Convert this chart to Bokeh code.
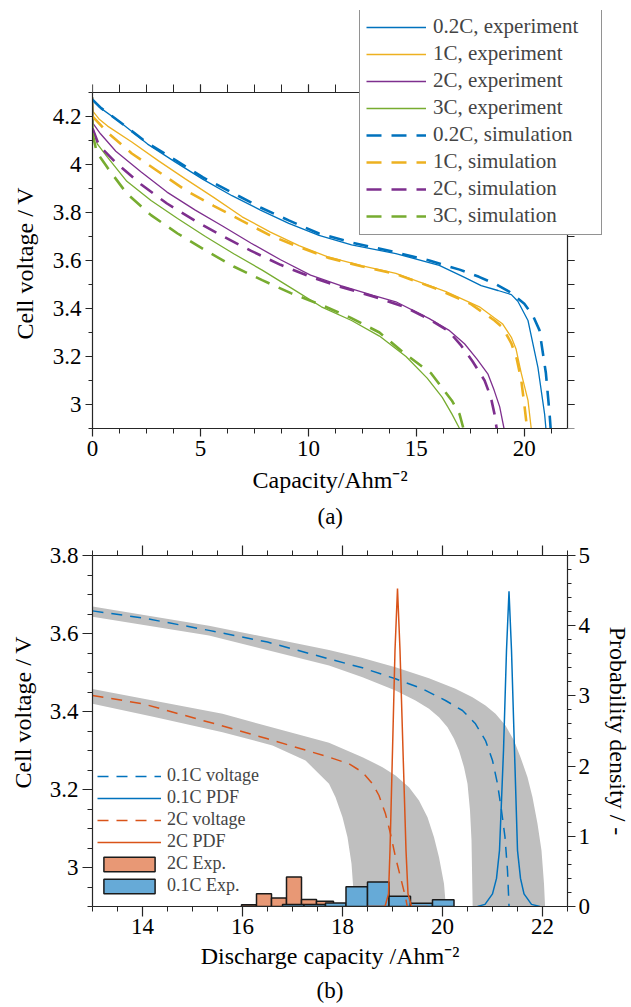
from bokeh.plotting import figure
from bokeh.models import (Range1d, LinearAxis, SingleIntervalTicker, Legend,
                          LegendItem, Title)
from bokeh.layouts import column
from bokeh.embed import file_html
from bokeh.resources import INLINE

FONT = "Liberation Serif"
AXC = "#262626"

# ---------------- panel (a): discharge curves ----------------
cap_02C_exp = [0, 0.03, 0.3, 1.3, 2.55, 3.84, 5.12, 6.46, 7.78, 9.09, 10.49, 12.0, 14.05,
               16.06, 17.23, 18.0, 18.78, 19.4, 19.7, 20.17, 20.63, 20.94, 21.0]
v_02C_exp = [4.28, 4.265, 4.24, 4.175, 4.085, 4.01, 3.938, 3.87, 3.81, 3.755, 3.705, 3.665,
             3.629, 3.58, 3.53, 3.495, 3.475, 3.458, 3.43, 3.35, 3.155, 2.96, 2.9]
cap_1C_exp = [0, 0.03, 0.3, 0.7, 1.82, 3.06, 4.3, 5.61, 6.93, 8.24, 9.56, 10.9, 12.5, 14.05,
              16.37, 17.92, 18.62, 19.0, 19.4, 19.62, 19.86, 20.17, 20.32]
v_1C_exp = [4.28, 4.22, 4.19, 4.16, 4.094, 4.015, 3.94, 3.863, 3.782, 3.718, 3.662, 3.615,
            3.578, 3.546, 3.47, 3.407, 3.36, 3.335, 3.28, 3.23, 3.13, 3.017, 2.9]
cap_2C_exp = [0, 0.03, 0.37, 1.08, 2.24, 3.45, 4.76, 6.0, 7.35, 8.71, 10.1, 11.5, 13.0, 14.05,
              15.6, 16.5, 17.23, 17.8, 18.31, 18.6, 18.86, 19.06]
v_2C_exp = [4.28, 4.17, 4.128, 4.055, 3.97, 3.885, 3.81, 3.745, 3.672, 3.603, 3.539, 3.495,
            3.455, 3.428, 3.358, 3.31, 3.253, 3.19, 3.128, 3.06, 2.99, 2.9]
cap_3C_exp = [0, 0.03, 0.22, 0.7, 1.59, 2.71, 3.94, 5.23, 6.54, 7.86, 9.25, 10.6, 12.0, 13.29,
              14.52, 15.5, 16.2, 16.65, 17.0]
v_3C_exp = [4.28, 4.15, 4.086, 4.03, 3.93, 3.85, 3.775, 3.70, 3.628, 3.56, 3.483, 3.407, 3.35,
            3.285, 3.2, 3.11, 3.03, 2.96, 2.9]

cap_02C_sim = [0, 0.4, 1.3, 2.55, 3.84, 5.12, 6.46, 7.78, 9.09, 10.49, 12.0, 14.0, 15.6, 17.0,
               17.9, 18.7, 19.3, 20.0, 20.4, 20.7, 21.0, 21.17, 21.22]
v_02C_sim = [4.27, 4.235, 4.175, 4.089, 4.018, 3.946, 3.883, 3.821, 3.767, 3.7125, 3.675, 3.635,
             3.6, 3.562, 3.532, 3.5, 3.47, 3.42, 3.37, 3.31, 3.13, 2.96, 2.9]
cap_1C_sim = [0, 0.7, 1.82, 3.06, 4.3, 5.61, 6.93, 8.24, 9.56, 10.9, 12.5, 14.0, 16.0, 17.5,
              18.62, 19.0, 19.4, 19.65, 19.86, 20.0, 20.09, 20.12]
v_1C_sim = [4.2, 4.133, 4.046, 3.97, 3.893, 3.828, 3.765, 3.704, 3.656, 3.612, 3.575, 3.545,
            3.48, 3.42, 3.35, 3.32, 3.255, 3.19, 3.10, 3.0, 2.93, 2.9]
cap_2C_sim = [0, 0.3, 1.08, 2.24, 3.45, 4.76, 6.0, 7.35, 8.71, 10.1, 11.5, 13.0, 14.5, 15.6,
              16.5, 17.08, 17.6, 18.16, 18.45, 18.62, 18.72]
v_2C_sim = [4.15, 4.08, 4.008, 3.918, 3.8375, 3.765, 3.703, 3.64, 3.582, 3.532, 3.49, 3.45,
            3.405, 3.355, 3.305, 3.245, 3.18, 3.10, 3.03, 2.96, 2.9]
cap_3C_sim = [0, 0.2, 0.7, 1.59, 2.71, 3.94, 5.23, 6.54, 7.86, 9.19, 10.66, 11.97, 13.29, 14.52,
              15.68, 16.64, 17.0, 17.18]
v_3C_sim = [4.13, 4.05, 3.986, 3.879, 3.789, 3.7125, 3.642, 3.575, 3.518, 3.464, 3.4125, 3.361,
            3.30, 3.208, 3.13, 3.017, 2.96, 2.9]

rates_a = ["0.2C", "1C", "2C", "3C"]
colors_a = ["#0072BD", "#EDB120", "#7E2F8E", "#77AC30"]

# ---------------- panel (b): uncertainty ----------------
v01_cap = [13.0, 14.0, 15.33, 16.5, 17.73, 18.40, 19.06, 19.60, 20.06, 20.40, 20.66, 20.86,
           21.00, 21.10, 21.18, 21.25, 21.30, 21.33, 21.34]
v01_v = [3.658, 3.64, 3.608, 3.578, 3.535, 3.512, 3.4838, 3.4581, 3.4282, 3.4026, 3.3684,
         3.3256, 3.2744, 3.2145, 3.1462, 3.0778, 2.9923, 2.9026, 2.88]
v2_cap = [13.0, 14.0, 15.46, 16.5, 17.73, 18.13, 18.40, 18.60, 18.73, 18.86, 18.96, 19.06,
          19.16, 19.26, 19.31]
v2_v = [3.441, 3.42, 3.368, 3.33, 3.283, 3.2658, 3.2444, 3.2145, 3.1846, 3.1376, 3.0863,
        3.0265, 2.9752, 2.9239, 2.89]

band01_up_cap = [12.9, 13.0, 15.33, 17.73, 18.40, 19.06, 19.73, 20.26, 20.60, 20.86, 21.06,
                 21.26, 21.43, 21.56, 21.70, 21.80, 21.90, 21.98, 22.03, 22.07]
band01_up_v = [3.671, 3.669, 3.62, 3.558, 3.5375, 3.5137, 3.4855, 3.4581, 3.4368, 3.4154, 3.394,
               3.3641, 3.3256, 3.2829, 3.2316, 3.1803, 3.112, 3.0436, 2.9581, 2.85]
band01_lo_cap = [12.9, 13.0, 15.33, 17.73, 18.40, 19.06, 19.46, 19.73, 19.93, 20.10, 20.23,
                 20.33, 20.43, 20.50, 20.55, 20.58, 20.61]
band01_lo_v = [3.645, 3.643, 3.595, 3.5179, 3.488, 3.4538, 3.4282, 3.4068, 3.3854, 3.3598,
               3.3299, 3.30, 3.2573, 3.2145, 3.1462, 3.0692, 2.85]
band2_up_cap = [12.9, 13.0, 15.6, 17.73, 18.40, 18.80, 19.06, 19.33, 19.53, 19.70, 19.83,
                19.93, 20.03, 20.10]
band2_up_v = [3.46, 3.458, 3.394, 3.32, 3.2829, 3.2573, 3.2359, 3.206, 3.1718, 3.1291, 3.0778,
              3.0265, 2.9581, 2.85]
band2_lo_cap = [12.9, 13.0, 14.26, 15.6, 16.6, 17.26, 17.73, 17.86, 18.00, 18.10, 18.18, 18.27]
band2_lo_v = [3.422, 3.42, 3.3855, 3.347, 3.3128, 3.2744, 3.2145, 3.1803, 3.1291, 3.0778,
              3.0094, 2.85]

pdf01_cap = [20.7, 20.85, 21.0, 21.08, 21.14, 21.22, 21.28, 21.33, 21.38, 21.44, 21.5, 21.56,
             21.63, 21.78, 21.95]
pdf01_d = [0.0, 0.03, 0.18, 0.4, 0.8, 2.22, 3.65, 4.49, 3.65, 2.22, 0.8, 0.4, 0.18, 0.03, 0.0]
pdf2_cap = [18.5, 18.85, 18.92, 18.95, 19.0, 19.05, 19.1, 19.15, 19.21, 19.27, 19.31, 19.38, 19.7]
pdf2_d = [0.0, 0.0, 0.18, 0.8, 2.22, 3.65, 4.53, 3.65, 2.22, 0.8, 0.18, 0.0, 0.0]

hist2_edges = [15.98, 16.28, 16.58, 16.88, 17.18, 17.48, 17.82]
hist2_dens = [0.024, 0.18, 0.12, 0.42, 0.10, 0.075]
hist01_edges = [16.80, 17.23, 17.66, 18.07, 18.50, 18.93, 19.36, 19.80, 20.23]
hist01_dens = [0.03, 0.03, 0.05, 0.28, 0.35, 0.145, 0.045, 0.095]

TICK_PX = "23px"
LABEL_PX = "24px"


def style_axis(ax, major_out, minor_out, labels=True):
    ax.axis_line_color = AXC
    ax.axis_line_width = 1.2
    ax.major_tick_line_color = AXC
    ax.minor_tick_line_color = AXC
    ax.major_tick_line_width = 1.2
    ax.minor_tick_line_width = 1.0
    ax.major_tick_in = 0
    ax.minor_tick_in = 0
    ax.major_tick_out = major_out
    ax.minor_tick_out = minor_out
    ax.major_label_text_font = FONT
    if labels:
        ax.major_label_text_font_size = TICK_PX
        ax.major_label_text_color = "black"
    else:
        ax.major_label_text_font_size = "1px"
        ax.major_label_text_color = None
        ax.major_label_standoff = 0
    ax.axis_label_text_font = FONT
    ax.axis_label_text_font_size = LABEL_PX
    ax.axis_label_text_font_style = "normal"
    ax.axis_label_text_color = "black"


def side_title(text, align, offset, standoff, valign, size=LABEL_PX):
    return Title(text=text, align=align, vertical_align=valign, offset=offset,
                 standoff=standoff, text_font=FONT, text_font_size=size,
                 text_font_style="normal", text_color="black")


# ---------------- figure (a) ----------------
# frame is enlarged above/right so that the legend can overhang the axes box
SX1 = 475 / 22.0     # px per Ah/m2
SY1 = 336 / 1.4      # px per V
p1 = figure(frame_width=527, frame_height=418, min_border_left=92, min_border_right=12,
            min_border_top=10, min_border_bottom=114,
            x_range=Range1d(0, 527 / SX1), y_range=Range1d(2.9, 2.9 + 418 / SY1),
            output_backend="svg", toolbar_location=None)
p1.grid.visible = False
p1.outline_line_color = None
p1.background_fill_color = "white"
p1.border_fill_color = "white"

p1.xaxis.ticker = SingleIntervalTicker(interval=5, num_minor_ticks=4)
p1.yaxis.ticker = SingleIntervalTicker(interval=0.2, num_minor_ticks=2)
p1.xaxis.bounds = (0, 22)
p1.yaxis.bounds = (2.9, 4.3)
style_axis(p1.xaxis[0], 8, 5)
style_axis(p1.yaxis[0], 7, 4)
p1.xaxis.major_label_standoff = 4
p1.yaxis.major_label_standoff = 4

ax_top1 = LinearAxis(ticker=SingleIntervalTicker(interval=5, num_minor_ticks=4),
                     fixed_location=4.3, bounds=(0, 22))
style_axis(ax_top1, 8, 8, labels=False)
p1.add_layout(ax_top1, "above")
ax_right1 = LinearAxis(ticker=SingleIntervalTicker(interval=0.2, num_minor_ticks=2),
                       fixed_location=22, bounds=(2.9, 4.3))
style_axis(ax_right1, 7, 7, labels=False)
p1.add_layout(ax_right1, "right")

p1.add_layout(side_title("Cell voltage / V", "left", 89, 20, "top"), "left")
p1.add_layout(side_title("Capacity/Ahm\u207b\u00b2", "left", 160, 14, "middle"), "below")
p1.add_layout(side_title("(a)", "left", 225, 4, "middle", TICK_PX), "below")

exp_data = [(cap_02C_exp, v_02C_exp), (cap_1C_exp, v_1C_exp), (cap_2C_exp, v_2C_exp),
            (cap_3C_exp, v_3C_exp)]
sim_data = [(cap_02C_sim, v_02C_sim), (cap_1C_sim, v_1C_sim), (cap_2C_sim, v_2C_sim),
            (cap_3C_sim, v_3C_sim)]
items_a = []
for (cx, vy), col, rate in zip(exp_data, colors_a, rates_a):
    r = p1.line(cx, vy, line_color=col, line_width=1.3)
    items_a.append(LegendItem(label=f"{rate}, experiment", renderers=[r]))
for (cx, vy), col, rate in zip(sim_data, colors_a, rates_a):
    r = p1.line(cx, vy, line_color=col, line_width=2.6, line_dash="15 10")
    items_a.append(LegendItem(label=f"{rate}, simulation", renderers=[r]))

leg1 = Legend(items=items_a, location=(267, 193), border_line_color=AXC, border_line_width=1,
              background_fill_color="white", background_fill_alpha=1.0,
              label_text_font=FONT, label_text_font_size="21px", glyph_width=60,
              glyph_height=24, label_height=24, label_width=162, spacing=2, padding=6,
              margin=0, label_standoff=7)
p1.add_layout(leg1)

# ---------------- figure (b) ----------------
p2 = figure(frame_width=475, frame_height=351, min_border_left=92, min_border_right=64,
            min_border_top=13, min_border_bottom=101, x_range=Range1d(13, 22.5),
            y_range=Range1d(2.9, 3.8000001), output_backend="svg", toolbar_location=None,
            x_axis_label="Discharge capacity /Ahm\u207b\u00b2")
p2.grid.visible = False
p2.outline_line_color = None
p2.background_fill_color = "white"
p2.border_fill_color = "white"
p2.extra_y_ranges = {"pdf": Range1d(0, 5)}

p2.xaxis.ticker = SingleIntervalTicker(interval=2, num_minor_ticks=4)
p2.yaxis.ticker = SingleIntervalTicker(interval=0.2, num_minor_ticks=4)
style_axis(p2.xaxis[0], 10, 5)
style_axis(p2.yaxis[0], 10, 5)
p2.xaxis.major_label_standoff = 2
p2.xaxis.axis_label_standoff = 6
p2.yaxis.major_label_standoff = 4

ax_top2 = LinearAxis(ticker=SingleIntervalTicker(interval=2, num_minor_ticks=4))
style_axis(ax_top2, 10, 5, labels=False)
p2.add_layout(ax_top2, "above")
ax_right2 = LinearAxis(y_range_name="pdf", axis_label="Probability density / -",
                       ticker=SingleIntervalTicker(interval=1, num_minor_ticks=5))
style_axis(ax_right2, 8, 4)
ax_right2.major_label_standoff = 3
ax_right2.axis_label_standoff = 12
ax_right2.axis_label_orientation = "vertical"
p2.add_layout(ax_right2, "right")
p2.add_layout(side_title("Cell voltage / V", "left", 118, 17, "top"), "left")
p2.add_layout(side_title("(b)", "center", 0, 10, "middle", TICK_PX), "below")

band_col = "#BFBFBF"
p2.patch(band01_up_cap + band01_lo_cap[::-1], band01_up_v + band01_lo_v[::-1],
         fill_color=band_col, line_color=None)
p2.patch(band2_up_cap + band2_lo_cap[::-1], band2_up_v + band2_lo_v[::-1],
         fill_color=band_col, line_color=None)

r_h2 = p2.quad(left=hist2_edges[:-1], right=hist2_edges[1:], top=hist2_dens, bottom=0,
               y_range_name="pdf", fill_color="#E89875", line_color="#1a1a1a", line_width=1.5)
r_h01 = p2.quad(left=hist01_edges[:-1], right=hist01_edges[1:], top=hist01_dens, bottom=0,
                y_range_name="pdf", fill_color="#66AAD7", line_color="#1a1a1a", line_width=1.5)

r_v01 = p2.line(v01_cap, v01_v, line_color="#0072BD", line_width=1.5, line_dash="11 8")
r_p01 = p2.line(pdf01_cap, pdf01_d, y_range_name="pdf", line_color="#0072BD", line_width=1.5)
r_v2 = p2.line(v2_cap, v2_v, line_color="#D95319", line_width=1.5, line_dash="11 8")
r_p2 = p2.line(pdf2_cap, pdf2_d, y_range_name="pdf", line_color="#D95319", line_width=1.5)

leg2 = Legend(items=[LegendItem(label="0.1C voltage", renderers=[r_v01]),
                     LegendItem(label="0.1C PDF", renderers=[r_p01]),
                     LegendItem(label="2C voltage", renderers=[r_v2]),
                     LegendItem(label="2C PDF", renderers=[r_p2]),
                     LegendItem(label="2C Exp.", renderers=[r_h2]),
                     LegendItem(label="0.1C Exp.", renderers=[r_h01])],
              location=(5, 10), border_line_color=None, background_fill_alpha=0.0,
              label_text_font=FONT, label_text_font_size="18px", glyph_width=64,
              glyph_height=18, label_height=18, spacing=1, padding=8, margin=0,
              label_standoff=6)
p2.add_layout(leg2)

layout = column(p1, p2, spacing=0)
open("out.html", "w").write(file_html(layout, INLINE))
